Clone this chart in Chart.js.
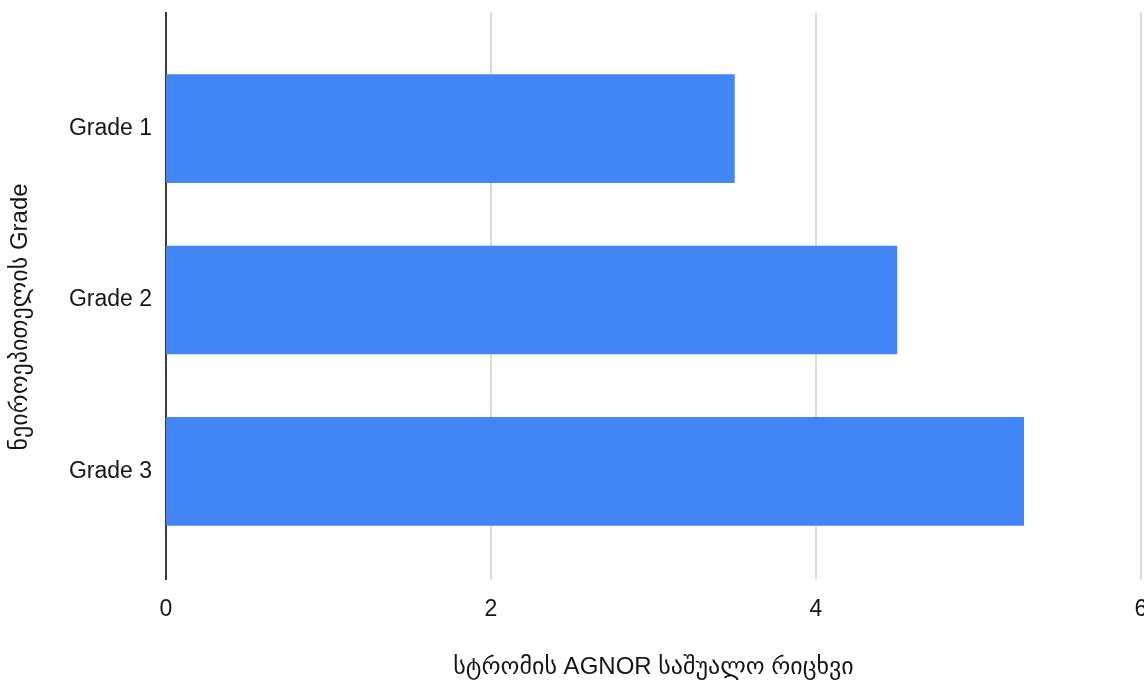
<!DOCTYPE html>
<html>
<head>
<meta charset="utf-8">
<script src="https://cdn.jsdelivr.net/npm/chart.js@4/dist/chart.umd.min.js"></script>
<style>
  html, body { margin: 0; padding: 0; background: #ffffff; }
  #wrap { width: 1144px; height: 687px; position: relative; }
</style>
</head>
<body>
<div id="wrap"><canvas id="chart"></canvas></div>
<script>
// Mean stromal AGNOR count per grade
const grades = ['Grade 1', 'Grade 2', 'Grade 3'];
const agnorMeans = [3.5, 4.5, 5.28];
const xTicks = [0, 2, 4, 6];
const xTitle = 'სტრომის AGNOR საშუალო რიცხვი';
const yTitle = 'ნეიროეპითელის Grade';

const FONT = "'Liberation Sans', Arial, 'DejaVu Sans', sans-serif";
const TEXT = '#151515';

// Vertical grid lines and the zero axis, drawn a little past the bar band
const gridPlugin = {
  id: 'extendedGrid',
  beforeDatasetsDraw(chart) {
    const { ctx, chartArea, scales } = chart;
    const top = chartArea.top - 31, bottom = chartArea.bottom + 23;
    ctx.save();
    xTicks.forEach(v => {
      const x = Math.round(scales.x.getPixelForValue(v));
      ctx.beginPath();
      ctx.lineWidth = 2;
      ctx.strokeStyle = v === 0 ? '#3a3a3a' : '#dadada';
      ctx.moveTo(x, top);
      ctx.lineTo(x, bottom);
      ctx.stroke();
    });
    ctx.restore();
  }
};

// Rotated title for the category axis
const yTitlePlugin = {
  id: 'yTitle',
  afterDraw(chart) {
    const { ctx } = chart;
    ctx.save();
    ctx.translate(20, 317);
    ctx.rotate(-Math.PI / 2);
    ctx.font = '24px ' + FONT;
    ctx.fillStyle = TEXT;
    ctx.textAlign = 'center';
    ctx.textBaseline = 'middle';
    ctx.fillText(yTitle, 0, 0);
    ctx.restore();
  }
};

new Chart(document.getElementById('chart'), {
  type: 'bar',
  data: {
    labels: grades,
    datasets: [{
      data: agnorMeans,
      backgroundColor: '#4285f4',
      borderWidth: 0,
      categoryPercentage: 1,
      barPercentage: 0.634
    }]
  },
  options: {
    indexAxis: 'y',
    responsive: true,
    maintainAspectRatio: false,
    animation: false,
    layout: { padding: { top: 43, right: 3, left: 0, bottom: 0 } },
    plugins: { legend: { display: false }, tooltip: { enabled: false } },
    scales: {
      x: {
        type: 'linear',
        min: 0,
        max: 6,
        afterBuildTicks(scale) { scale.ticks = xTicks.map(v => ({ value: v })); },
        afterFit(scale) { scale.paddingLeft = 0; scale.paddingRight = 0; scale.height = 130; },
        grid: { display: false, drawTicks: false },
        border: { display: false },
        ticks: { color: TEXT, font: { family: FONT, size: 23 }, padding: 39, maxRotation: 0 },
        title: {
          display: true,
          text: xTitle,
          color: TEXT,
          font: { family: FONT, size: 24 },
          padding: { top: 34, bottom: 5 }
        }
      },
      y: {
        afterFit(scale) { scale.width = 166; scale.paddingTop = 0; scale.paddingBottom = 0; },
        grid: { display: false, drawTicks: false },
        border: { display: false },
        ticks: { color: TEXT, font: { family: FONT, size: 23 }, padding: 14 }
      }
    }
  },
  plugins: [gridPlugin, yTitlePlugin]
});
</script>
</body>
</html>
